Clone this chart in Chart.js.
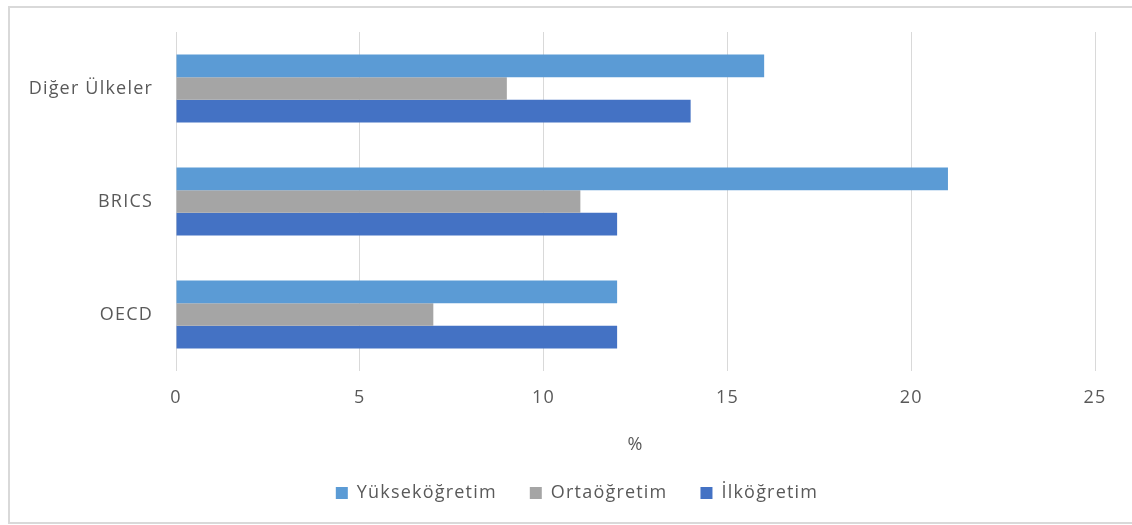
<!DOCTYPE html>
<html>
<head>
<meta charset="utf-8">
<script src="https://cdn.jsdelivr.net/npm/chart.js@4"></script>
<style>
  html, body { margin: 0; padding: 0; background: #ffffff; }
  #wrap { position: relative; width: 1132px; height: 525px; }
</style>
</head>
<body>
<div id="wrap"><canvas id="c" width="1132" height="525"></canvas></div>
<script>
// Regions (top to bottom) and education levels
const categories = ['Diğer Ülkeler', 'BRICS', 'OECD'];
const seriesNames = ['Yükseköğretim', 'Ortaöğretim', 'İlköğretim'];
const higherEd = [16, 21, 12];
const secondaryEd = [9, 11, 7];
const primaryEd = [14, 12, 12];
const xTicks = [0, 5, 10, 15, 20, 25];
const axisTitle = '%';

const colors = ['#5B9BD5', '#A5A5A5', '#4472C4'];
const textColor = '#595959';
const fontFamily = "'Open Sans', 'Noto Sans', sans-serif";
const fontSize = 18;
const tracking = '1.2px';
const legendShift = 29.5;

// Light frame around the whole chart, slightly loose letter spacing for all text,
// and the legend row nudged right so it centres under the whole frame
const framePlugin = {
  id: 'frame',
  beforeUpdate(chart) { chart.ctx.letterSpacing = tracking; },
  beforeLayout(chart) { chart.ctx.letterSpacing = tracking; },
  afterLayout(chart) {
    if (chart.legend) {
      chart.legend.left += legendShift;
      chart.legend.right += legendShift;
    }
  },
  beforeDraw(chart) {
    const ctx = chart.ctx;
    ctx.letterSpacing = tracking;
    ctx.save();
    ctx.fillStyle = '#ffffff';
    ctx.fillRect(0, 0, chart.width, chart.height);
    ctx.strokeStyle = '#d9d9d9';
    ctx.lineWidth = 2;
    ctx.strokeRect(9, 7, 1130, 516);
    ctx.restore();
  }
};

new Chart(document.getElementById('c'), {
  type: 'bar',
  data: {
    labels: categories,
    datasets: [higherEd, secondaryEd, primaryEd].map((vals, i) => ({
      label: seriesNames[i],
      data: vals,
      backgroundColor: colors[i],
      borderWidth: 0,
      categoryPercentage: 0.6,
      barPercentage: 1.0
    }))
  },
  options: {
    indexAxis: 'y',
    responsive: false,
    animation: false,
    layout: { padding: { top: 32, right: 37, left: 0, bottom: 13 } },
    plugins: {
      legend: {
        position: 'bottom',
        labels: {
          boxWidth: 12,
          boxHeight: 12,
          padding: 33,
          color: textColor,
          font: { family: fontFamily, size: fontSize }
        }
      },
      tooltip: { enabled: false }
    },
    scales: {
      x: {
        min: 0,
        max: 25,
        afterBuildTicks(scale) { scale.ticks = xTicks.map(v => ({ value: v })); },
        afterFit(scale) { scale.height = 80; },
        border: { display: false },
        grid: { color: '#d9d9d9', lineWidth: 1, drawTicks: false },
        ticks: { color: textColor, padding: 16, font: { family: fontFamily, size: fontSize } },
        title: { display: true, text: axisTitle, color: textColor, padding: { top: 0, bottom: -5 }, font: { family: fontFamily, size: fontSize } }
      },
      y: {
        afterFit(scale) { scale.width = 176; },
        border: { display: false },
        grid: { display: false },
        ticks: { color: textColor, padding: 15, font: { family: fontFamily, size: fontSize } }
      }
    }
  },
  plugins: [framePlugin]
});
</script>
</body>
</html>
